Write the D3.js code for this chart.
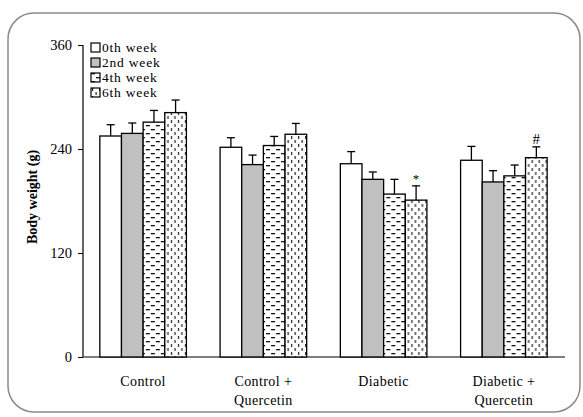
<!DOCTYPE html>
<html><head><meta charset="utf-8">
<script src="https://cdn.jsdelivr.net/npm/d3@7"></script>
<style>body{margin:0;background:#fff}svg{display:block}</style>
</head><body><svg id="c" width="583" height="417"></svg>
<script>
const categories = [["Control"], ["Control +", "Quercetin"], ["Diabetic"], ["Diabetic +", "Quercetin"]];
const seriesNames = ["0th week", "2nd week", "4th week", "6th week"];
const week0 = [255, 242, 223, 227];
const week2 = [258, 222, 205, 202];
const week4 = [271, 244, 188, 209];
const week6 = [282, 257, 181, 230];
const err0 = [13, 11, 14, 16];
const err2 = [12, 11, 8.5, 13];
const err4 = [13.5, 10.5, 17, 12.5];
const err6 = [14.5, 12.5, 16.5, 12.5];
const marks = [["", "", "", ""], ["", "", "", ""], ["", "", "", "*"], ["", "", "", "#"]];
const yTicks = [0, 120, 240, 360];

const values = [week0, week2, week4, week6];
const errs = [err0, err2, err4, err6];
const FONT = "'Liberation Serif', 'Times New Roman', serif";

const svg = d3.select("#c");
const defs = svg.append("defs");
const p4 = defs.append("pattern").attr("id", "p4").attr("patternUnits", "userSpaceOnUse")
  .attr("width", 10).attr("height", 8);
p4.append("rect").attr("width", 10).attr("height", 8).attr("fill", "#fff");
p4.append("rect").attr("x", 1).attr("y", 1).attr("width", 4).attr("height", 1.3).attr("fill", "#111");
p4.append("rect").attr("x", 6).attr("y", 5).attr("width", 4).attr("height", 1.3).attr("fill", "#111");
const p6 = defs.append("pattern").attr("id", "p6").attr("patternUnits", "userSpaceOnUse")
  .attr("width", 7).attr("height", 8);
p6.append("rect").attr("width", 7).attr("height", 8).attr("fill", "#fff");
p6.append("rect").attr("x", 1).attr("y", 0).attr("width", 1.2).attr("height", 3).attr("fill", "#222");
p6.append("rect").attr("x", 4.5).attr("y", 4).attr("width", 1.2).attr("height", 3).attr("fill", "#222");
const fills = ["#fff", "#c0c0c0", "url(#p4)", "url(#p6)"];

svg.append("rect").attr("x", 8).attr("y", 13).attr("width", 572).attr("height", 399)
  .attr("rx", 26).attr("ry", 26).attr("fill", "none").attr("stroke", "#8a8a8a").attr("stroke-width", 1.5);

const x0 = d3.scaleBand().domain(d3.range(categories.length)).range([83, 564]).paddingInner(0.28).paddingOuter(0.14);
const x1 = d3.scaleBand().domain(d3.range(seriesNames.length)).range([0, x0.bandwidth()]);
const y = d3.scaleLinear().domain([0, 360]).range([357, 45]);

const yAxis = d3.axisLeft(y).tickValues(yTicks).tickSize(5).tickPadding(6);
const ga = svg.append("g").attr("transform", "translate(83,0)").call(yAxis)
  .attr("font-family", FONT).attr("font-size", 14.5);
ga.select(".domain").attr("stroke", "#000").attr("stroke-width", 1.2).attr("d", "M0,45V357");
ga.selectAll(".tick line").attr("stroke", "#000");
ga.selectAll(".tick text").attr("fill", "#000");

svg.append("line").attr("x1", 83).attr("x2", 565).attr("y1", y(0)).attr("y2", y(0)).attr("stroke", "#000").attr("stroke-width", 1.2);

categories.forEach((cat, i) => {
  const g = svg.append("g").attr("transform", `translate(${x0(i)},0)`);
  seriesNames.forEach((s, j) => {
    const v = values[j][i], e = errs[j][i];
    const bx = x1(j), bw = x1.bandwidth();
    g.append("rect").attr("x", bx).attr("y", y(v)).attr("width", bw).attr("height", y(0) - y(v))
      .attr("fill", fills[j]).attr("stroke", "#000").attr("stroke-width", 1.3);
    const cx = bx + bw / 2;
    g.append("line").attr("x1", cx).attr("x2", cx).attr("y1", y(v)).attr("y2", y(v + e)).attr("stroke", "#000").attr("stroke-width", 1.3);
    g.append("line").attr("x1", cx - 4).attr("x2", cx + 4).attr("y1", y(v + e)).attr("y2", y(v + e)).attr("stroke", "#000").attr("stroke-width", 1.3);
    if (marks[i][j]) {
      g.append("text").attr("x", cx).attr("y", y(v + e) - 3).attr("text-anchor", "middle")
        .attr("font-family", FONT).attr("fill", "#000")
        .attr("font-size", marks[i][j] === "*" ? 13 : 15).text(marks[i][j]);
    }
  });
  const t = svg.append("text").attr("x", x0(i) + x0.bandwidth() / 2).attr("y", 386)
    .attr("text-anchor", "middle").attr("font-size", 14).attr("letter-spacing", 0.4)
    .attr("font-family", FONT).attr("fill", "#000");
  cat.forEach((line, k) => t.append("tspan").attr("x", x0(i) + x0.bandwidth() / 2).attr("dy", k ? 19 : 0).text(line));
});

svg.append("text").attr("transform", "translate(37,197) rotate(-90)").attr("text-anchor", "middle")
  .attr("font-family", FONT).attr("font-size", 14).attr("font-weight", "bold").attr("fill", "#000")
  .text("Body weight (g)");

const lg = svg.append("g");
seriesNames.forEach((s, j) => {
  const ly = 47.5 + j * 15;
  lg.append("rect").attr("x", 91).attr("y", ly - 4.5).attr("width", 9).attr("height", 9)
    .attr("fill", fills[j]).attr("stroke", "#000").attr("stroke-width", 1.2);
  lg.append("text").attr("x", 102).attr("y", ly + 4.5).attr("font-size", 13.5)
    .attr("letter-spacing", 0.8).attr("font-family", FONT).attr("fill", "#000").text(s);
});
</script></body></html>
